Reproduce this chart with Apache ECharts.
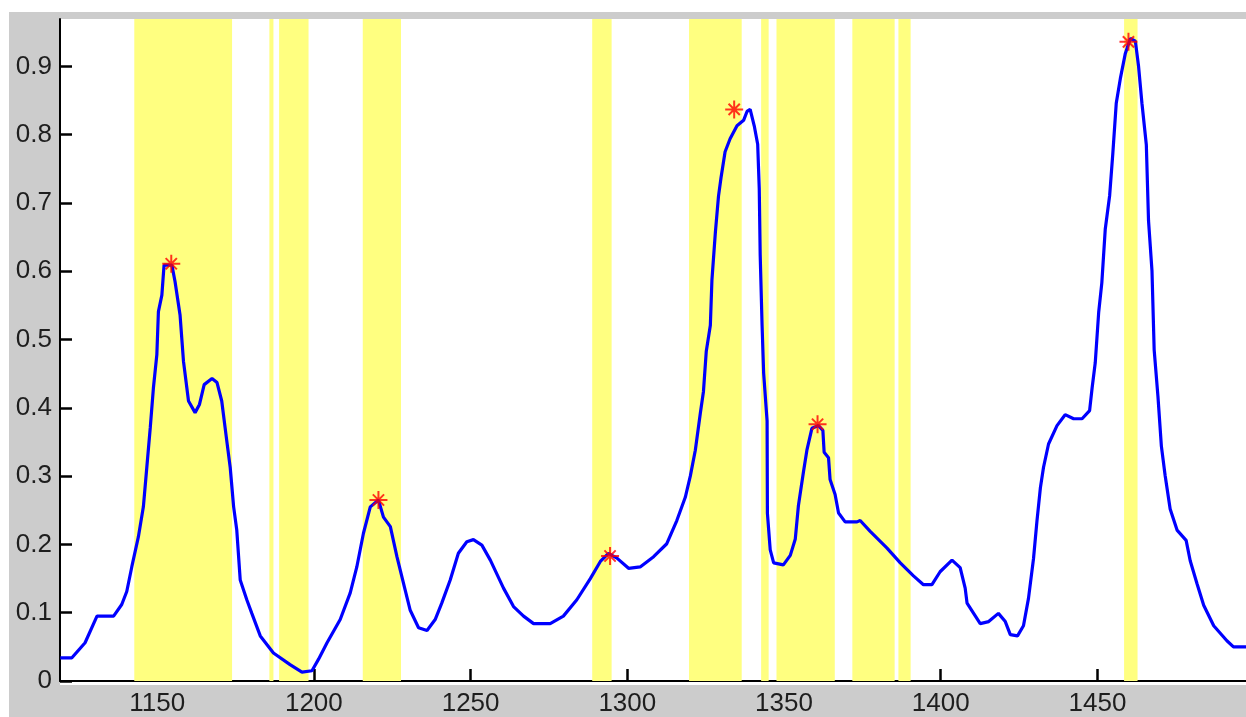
<!DOCTYPE html>
<html>
<head>
<meta charset="utf-8">
<script src="https://cdn.jsdelivr.net/npm/echarts@6/dist/echarts.min.js"></script>
<style>
  html, body { margin: 0; padding: 0; background: #ffffff; }
  #frame { position: absolute; left: 9px; top: 12px; width: 1237px; height: 705px; background: #cccccc; }
  #plot { position: absolute; left: 60px; top: 19px; width: 1186px; height: 666px; background: #ffffff; }
  #chart { position: absolute; left: 0; top: 0; width: 1246px; height: 717px; }
</style>
</head>
<body>
<div id="frame"></div>
<div id="plot"></div>
<div id="chart"></div>
<script>
// Spectrum trace: wavenumber positions and intensities
const traceX = [1119.1, 1122.8, 1127.0, 1130.8, 1136.1, 1138.7, 1140.3, 1141.9, 1144.0, 1145.6,
  1146.7, 1147.8, 1148.8, 1149.9, 1150.4, 1151.5, 1152.2, 1154.7, 1155.7, 1157.3,
  1158.4, 1160.0, 1162.1, 1163.5, 1165.0, 1167.5, 1169.1, 1170.6, 1172.2, 1173.3,
  1174.4, 1175.4, 1176.5, 1178.6, 1180.2, 1182.9, 1187.1, 1192.4, 1196.2, 1199.4,
  1201.5, 1204.2, 1208.4, 1211.6, 1213.7, 1215.8, 1218.0, 1220.6, 1222.2, 1224.4,
  1226.5, 1228.6, 1230.7, 1233.4, 1236.1, 1238.7, 1240.8, 1243.5, 1246.1, 1248.8,
  1250.9, 1253.6, 1256.3, 1260.5, 1263.7, 1266.9, 1270.1, 1275.4, 1279.6, 1283.9,
  1288.2, 1291.4, 1294.0, 1296.7, 1300.4, 1304.1, 1308.4, 1312.6, 1315.8, 1318.5,
  1320.1, 1321.7, 1323.3, 1324.3, 1325.2, 1326.5, 1327.0, 1328.1, 1329.1, 1329.9,
  1331.2, 1332.8, 1335.0, 1337.1, 1338.2, 1339.2, 1340.5, 1341.6, 1342.1, 1342.4,
  1343.0, 1343.5, 1344.6, 1344.7, 1345.6, 1346.7, 1349.8, 1352.0, 1353.6, 1354.6,
  1356.2, 1357.3, 1358.9, 1361.0, 1362.4, 1362.8, 1364.2, 1364.7, 1366.3, 1367.4,
  1369.5, 1373.3, 1374.3, 1377.5, 1382.8, 1387.1, 1391.3, 1394.5, 1397.2, 1399.8,
  1403.6, 1406.2, 1407.8, 1408.4, 1410.5, 1412.6, 1415.3, 1418.4, 1420.6, 1422.2,
  1424.5, 1426.4, 1428.0, 1429.6, 1430.7, 1431.8, 1432.8, 1434.4, 1437.1, 1439.7,
  1442.4, 1445.1, 1447.5, 1448.3, 1449.3, 1450.4, 1451.4, 1452.5, 1453.9, 1454.9,
  1456.0, 1457.3, 1458.9, 1460.5, 1462.1, 1463.1, 1464.2, 1465.6, 1466.3, 1467.4,
  1468.1, 1469.3, 1470.4, 1471.6, 1473.2, 1475.4, 1478.3, 1479.6, 1481.8, 1483.9,
  1487.1, 1491.3, 1493.4, 1497.5];
const traceY = [0.034, 0.034, 0.056, 0.095, 0.095, 0.112, 0.131, 0.167, 0.211, 0.255,
  0.313, 0.371, 0.429, 0.478, 0.541, 0.565, 0.609, 0.609, 0.585, 0.536,
  0.468, 0.410, 0.393, 0.405, 0.434, 0.443, 0.437, 0.410, 0.352, 0.313,
  0.255, 0.221, 0.148, 0.119, 0.099, 0.066, 0.041, 0.024, 0.013, 0.015,
  0.032, 0.056, 0.090, 0.129, 0.167, 0.216, 0.255, 0.265, 0.240, 0.226,
  0.182, 0.143, 0.104, 0.078, 0.074, 0.090, 0.114, 0.148, 0.187, 0.204,
  0.207, 0.199, 0.177, 0.136, 0.109, 0.095, 0.084, 0.084, 0.095, 0.119,
  0.150, 0.175, 0.187, 0.180, 0.165, 0.167, 0.182, 0.201, 0.235, 0.269,
  0.300, 0.338, 0.392, 0.424, 0.483, 0.521, 0.587, 0.657, 0.710, 0.737,
  0.775, 0.794, 0.813, 0.821, 0.834, 0.837, 0.813, 0.786, 0.721, 0.624,
  0.521, 0.451, 0.381, 0.246, 0.192, 0.173, 0.170, 0.184, 0.208, 0.257,
  0.306, 0.338, 0.370, 0.374, 0.367, 0.335, 0.327, 0.295, 0.273, 0.246,
  0.233, 0.233, 0.235, 0.219, 0.195, 0.173, 0.154, 0.141, 0.141, 0.160,
  0.177, 0.166, 0.136, 0.114, 0.099, 0.084, 0.087, 0.099, 0.087, 0.068,
  0.066, 0.081, 0.121, 0.179, 0.234, 0.283, 0.313, 0.347, 0.374, 0.390,
  0.384, 0.384, 0.396, 0.429, 0.466, 0.540, 0.583, 0.662, 0.711, 0.772,
  0.846, 0.882, 0.919, 0.941, 0.937, 0.901, 0.846, 0.785, 0.674, 0.601,
  0.485, 0.417, 0.344, 0.301, 0.252, 0.221, 0.206, 0.176, 0.142, 0.111,
  0.081, 0.059, 0.050, 0.050];

// Detected peaks
const peakX = [1154.5, 1220.6, 1294.5, 1334.1, 1360.7, 1459.9];
const peakY = [0.611, 0.265, 0.183, 0.837, 0.376, 0.936];

// Highlighted wavenumber windows
const bandStart = [1142.7, 1185.8, 1188.9, 1215.6, 1288.8, 1319.7, 1342.7, 1347.6, 1371.8, 1386.5, 1458.5];
const bandEnd   = [1173.9, 1187.1, 1198.3, 1227.8, 1295.0, 1336.5, 1345.1, 1366.2, 1385.3, 1390.4, 1462.8];

// Axis ticks
const xTicks = [1150, 1200, 1250, 1300, 1350, 1400, 1450];
const yTicks = [0, 0.1, 0.2, 0.3, 0.4, 0.5, 0.6, 0.7, 0.8, 0.9];

const X_MIN = 1119, X_MAX = 1497.4, Y_MIN = 0, Y_MAX = 0.9694;

const chart = echarts.init(document.getElementById('chart'), null, { renderer: 'canvas' });

const labelFont = { fontFamily: 'Liberation Sans, Arial, sans-serif', fontSize: 26, color: '#1e1e1e' };
const axisLine = { show: true, onZero: false, lineStyle: { color: '#000000', width: 2 } };
const tickLine = { color: '#000000', width: 2.5 };

chart.setOption({
  backgroundColor: 'transparent',
  animation: false,
  grid: { left: 60, right: 0, top: 19, bottom: 32, show: false },
  xAxis: {
    type: 'value', min: X_MIN, max: X_MAX,
    axisLine: axisLine,
    axisTick: { show: true, inside: true, length: 12, customValues: xTicks, lineStyle: tickLine },
    axisLabel: Object.assign({ customValues: xTicks, margin: 10, formatter: v => String(v) }, labelFont),
    splitLine: { show: false }
  },
  yAxis: {
    type: 'value', min: Y_MIN, max: Y_MAX,
    axisLine: axisLine,
    axisTick: { show: true, inside: true, length: 12, customValues: yTicks, lineStyle: tickLine },
    axisLabel: Object.assign({ customValues: yTicks, margin: 8, formatter: v => String(v) }, labelFont),
    splitLine: { show: false }
  },
  series: [
    {
      type: 'line', data: [], z: 1, silent: true,
      markArea: {
        silent: true,
        itemStyle: { color: '#ffff80', opacity: 1 },
        data: bandStart.map((s, i) => [{ xAxis: s }, { xAxis: bandEnd[i] }])
      }
    },
    {
      type: 'line', z: 3,
      data: traceX.map((x, i) => [x, traceY[i]]),
      showSymbol: false, clip: true,
      lineStyle: { color: '#0000ff', width: 3.2 }
    },
    {
      type: 'scatter', z: 4,
      data: peakX.map((x, i) => [x, peakY[i]]),
      symbol: 'path://M8,0L8,16M0,8L16,8M3,3L13,13M13,3L3,13',
      symbolSize: 18,
      itemStyle: { color: 'rgba(0,0,0,0)', borderColor: '#ff0000', borderWidth: 2 }
    }
  ]
});
</script>
</body>
</html>
